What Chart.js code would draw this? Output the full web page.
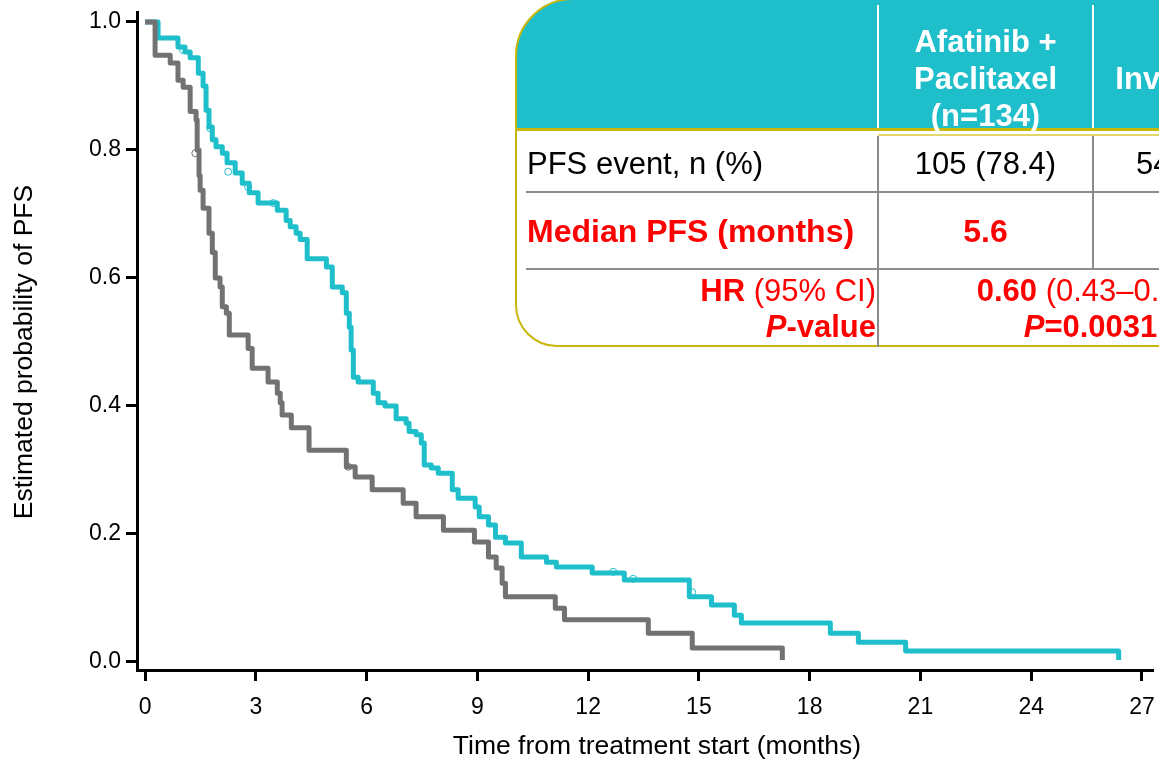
<!DOCTYPE html>
<html>
<head>
<meta charset="utf-8">
<script src="https://cdn.jsdelivr.net/npm/chart.js@4"></script>
<style>
  body { margin: 0; background: #fff; overflow: hidden; }
  #wrap { position: relative; width: 1159px; height: 763px; overflow: hidden; font-family: "Liberation Sans", Arial, sans-serif; }
  #chart { position: absolute; left: 0; top: 0; }
  .axt { position: absolute; font-size: 26.5px; line-height: 30px; text-align: center; color: #000; white-space: nowrap; }
  .box { position: absolute; left: 515px; top: -2px; width: 900px; height: 349px; box-sizing: border-box;
         border: 2.5px solid #C9B60A; border-radius: 58px 0 0 42px;
         background: linear-gradient(to bottom, #1FBECB 0, #1FBECB 128px, #fff 128px); }
  .ln { position: absolute; }
  .t { position: absolute; white-space: nowrap; }
  .hd { color: #fff; font-weight: bold; font-size: 31px; line-height: 37px; text-align: center; }
  .bd { font-size: 31px; line-height: 36px; }
  .red { color: #FF0000; }
  .c { text-align: center; }
</style>
</head>
<body>
<div id="wrap">
  <canvas id="chart" width="1159" height="763"></canvas>

  <!-- axis titles -->
  <div class="axt" style="left:357px; top:730px; width:600px;">Time from treatment start (months)</div>
  <div class="axt" style="left:-177px; top:337px; width:400px; transform:rotate(-90deg);">Estimated probability of PFS</div>

  <div class="box"></div>
  <!-- header lines -->
  <div class="ln" style="left:877px; top:5px; width:1.5px; height:123px; background:#fff;"></div>
  <div class="ln" style="left:1092px; top:5px; width:1.5px; height:123px; background:#fff;"></div>
  <div class="ln" style="left:516px; top:128px; width:700px; height:3px; background:#C9B60A;"></div>
  <div class="ln" style="left:878px; top:134px; width:300px; height:2px; background:#E3D66A;"></div>
  <!-- body lines -->
  <div class="ln" style="left:877px; top:136px; width:2px; height:211px; background:#8C8C8C;"></div>
  <div class="ln" style="left:1092px; top:136px; width:2px; height:134px; background:#8C8C8C;"></div>
  <div class="ln" style="left:526px; top:191px; width:700px; height:2px; background:#8C8C8C;"></div>
  <div class="ln" style="left:526px; top:268px; width:700px; height:2px; background:#8C8C8C;"></div>

  <!-- header text -->
  <div class="t hd" style="left:878px; top:23px; width:215px;">Afatinib +<br>Paclitaxel<br>(n=134)</div>
  <div class="t hd" style="left:1108px; top:23px; width:215px;">&nbsp;<br>Investigator's<br>(n=68)</div>

  <!-- row 1 -->
  <div class="t bd" style="left:527px; top:146px;">PFS event, n (%)</div>
  <div class="t bd c" style="left:878px; top:146px; width:215px;">105 (78.4)</div>
  <div class="t bd c" style="left:1093px; top:146px; width:210px;">54 (79.4)</div>

  <!-- row 2 -->
  <div class="t bd red" style="left:527px; top:213px; font-weight:bold; font-size:32px;">Median PFS (months)</div>
  <div class="t bd red c" style="left:878px; top:213px; width:215px; font-weight:bold; font-size:32px;">5.6</div>
  <div class="t bd red c" style="left:1093px; top:213px; width:210px; font-weight:bold; font-size:32px;">2.8</div>

  <!-- row 3 -->
  <div class="t bd red" style="left:527px; top:273px; width:349px; text-align:right;"><b>HR</b> (95% CI)<br><b><i>P</i>-value</b></div>
  <div class="t bd red c" style="left:878px; top:273px; width:425px;"><b>0.60</b> (0.43–0.85)<br><b><i>P</i>=0.0031</b></div>
</div>

<script>
// Afatinib + Paclitaxel (teal)
const afatinibMonths = [0, 0.35, 0.89, 1.08, 1.22, 1.44, 1.57, 1.65, 1.73, 1.82, 1.92, 2.09, 2.22, 2.44, 2.63, 2.82, 3.06, 3.58, 3.82, 3.93, 4.09, 4.20, 4.39, 4.91, 5.07, 5.34, 5.45, 5.53, 5.58, 5.64, 5.77, 6.18, 6.31, 6.50, 6.80, 7.07, 7.15, 7.34, 7.48, 7.56, 7.75, 7.94, 8.32, 8.48, 8.94, 9.05, 9.30, 9.49, 9.76, 10.19, 10.87, 11.14, 12.11, 12.98, 14.74, 15.34, 15.96, 16.15, 18.56, 19.32, 20.60, 26.37];
const afatinibPfs = [1.0, 0.975, 0.961, 0.953, 0.944, 0.92, 0.90, 0.862, 0.836, 0.816, 0.805, 0.795, 0.78, 0.764, 0.748, 0.733, 0.717, 0.706, 0.69, 0.68, 0.67, 0.66, 0.63, 0.617, 0.586, 0.577, 0.545, 0.523, 0.4875, 0.445, 0.4375, 0.42, 0.405, 0.40, 0.38, 0.373, 0.36, 0.355, 0.342, 0.308, 0.303, 0.295, 0.269, 0.256, 0.242, 0.227, 0.214, 0.195, 0.186, 0.164, 0.156, 0.1485, 0.139, 0.128, 0.102, 0.089, 0.073, 0.061, 0.045, 0.031, 0.017, 0.003];
const afatinibCensorMonths = [1.03, 1.76, 2.25, 2.79, 3.47, 12.68, 13.22, 14.82];
const afatinibCensorPfs = [0.956, 0.834, 0.766, 0.742, 0.717, 0.141, 0.130, 0.109];

// Investigator's choice (gray)
const icMonths = [0, 0.27, 0.68, 0.89, 1.03, 1.22, 1.38, 1.41, 1.46, 1.49, 1.57, 1.73, 1.82, 1.90, 2.03, 2.09, 2.20, 2.28, 2.79, 2.90, 3.33, 3.58, 3.66, 3.71, 3.96, 4.44, 5.45, 5.69, 6.15, 6.99, 7.34, 8.08, 8.92, 9.30, 9.51, 9.67, 9.76, 11.11, 11.36, 13.63, 14.82, 17.26];
const icPfs = [1.0, 0.948, 0.936, 0.909, 0.898, 0.86, 0.847, 0.80, 0.76, 0.737, 0.709, 0.67, 0.64, 0.60, 0.586, 0.555, 0.545, 0.511, 0.49, 0.459, 0.4375, 0.42, 0.405, 0.386, 0.366, 0.331, 0.305, 0.289, 0.269, 0.248, 0.227, 0.206, 0.1875, 0.164, 0.147, 0.123, 0.102, 0.084, 0.066, 0.045, 0.022, 0.003];
const icCensorMonths = [1.36, 5.50];
const icCensorPfs = [0.795, 0.305];

const xTicks = [0, 3, 6, 9, 12, 15, 18, 21, 24, 27];
const yTicks = [0, 0.2, 0.4, 0.6, 0.8, 1.0];

const teal = "#1FBECB";
const gray = "#727272";
const fontFamily = "'Liberation Sans', Arial, sans-serif";

function toPoints(xs, ys) {
  return xs.map((x, i) => ({ x: x, y: ys[i] }));
}

// keep the plot area where the axes sit in the picture
function noScalePadding(s) {
  s.paddingTop = 0;
  s.paddingBottom = 0;
  s.paddingLeft = 0;
  s.paddingRight = 0;
}

const ctx = document.getElementById("chart").getContext("2d");
new Chart(ctx, {
  type: "line",
  data: {
    datasets: [
      {
        label: "IC censored",
        type: "scatter",
        data: toPoints(icCensorMonths, icCensorPfs),
        pointStyle: "circle",
        pointRadius: 3.5,
        borderWidth: 1,
        borderColor: gray,
        backgroundColor: "rgba(0,0,0,0)"
      },
      {
        label: "Afatinib censored",
        type: "scatter",
        data: toPoints(afatinibCensorMonths, afatinibCensorPfs),
        pointStyle: "circle",
        pointRadius: 3.5,
        borderWidth: 1,
        borderColor: teal,
        backgroundColor: "rgba(0,0,0,0)"
      },
      {
        label: "Investigator's choice",
        data: toPoints(icMonths, icPfs),
        stepped: "before",
        borderColor: gray,
        borderWidth: 5,
        borderJoinStyle: "round",
        pointRadius: 0,
        fill: false
      },
      {
        label: "Afatinib + Paclitaxel",
        data: toPoints(afatinibMonths, afatinibPfs),
        stepped: "before",
        borderColor: teal,
        borderWidth: 5,
        borderJoinStyle: "round",
        pointRadius: 0,
        fill: false
      }
    ]
  },
  options: {
    responsive: false,
    animation: false,
    devicePixelRatio: 1,
    layout: { padding: { top: 12, right: 6, left: 0, bottom: 0 } },
    plugins: {
      legend: { display: false },
      tooltip: { enabled: false }
    },
    scales: {
      x: {
        type: "linear",
        min: -0.22,
        max: 27.3,
        afterBuildTicks: s => { s.ticks = xTicks.map(v => ({ value: v })); },
        afterFit: s => { s.height = 93; noScalePadding(s); },
        grid: { drawOnChartArea: false, drawTicks: true, tickLength: 11, tickWidth: 3, tickColor: "#000" },
        border: { display: true, color: "#000", width: 3 },
        ticks: { color: "#000", font: { family: fontFamily, size: 23 }, padding: 13, maxRotation: 0, autoSkip: false }
      },
      y: {
        type: "linear",
        min: -0.0125,
        max: 1.0156,
        afterBuildTicks: s => { s.ticks = yTicks.map(v => ({ value: v })); },
        afterFit: s => { s.width = 137; noScalePadding(s); },
        grid: { drawOnChartArea: false, drawTicks: true, tickLength: 11, tickWidth: 3, tickColor: "#000" },
        border: { display: true, color: "#000", width: 3 },
        ticks: { color: "#000", font: { family: fontFamily, size: 23 }, padding: 5,
                 callback: v => Number(v).toFixed(1) }
      }
    }
  }
});
</script>
</body>
</html>
